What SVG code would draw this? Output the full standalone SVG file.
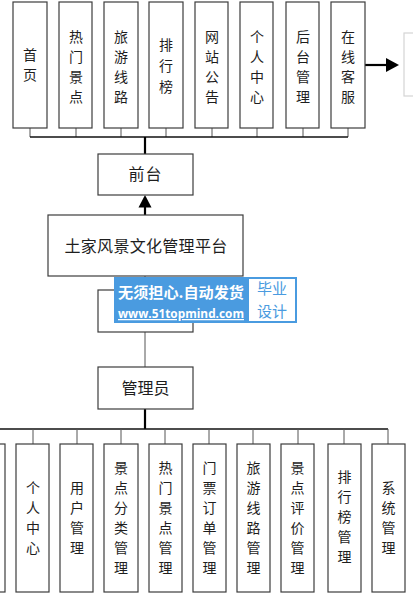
<svg xmlns="http://www.w3.org/2000/svg" width="413" height="599" viewBox="0 0 413 599">
<style>
  .box{fill:#fff;stroke:#3c3c3c;stroke-width:1.2}
  .t{font-family:"Noto Sans CJK SC","Liberation Sans",sans-serif;font-size:16px;fill:#1e1e1e;text-anchor:middle}
  .c{font-family:"Noto Sans CJK SC","Liberation Sans",sans-serif;font-size:14px;fill:#1e1e1e;text-anchor:middle}
  .thin{stroke:#555;stroke-width:1;fill:none}
  .bus{stroke:#111;stroke-width:1.6;fill:none}
  .thick{stroke:#000;stroke-width:2.2;fill:none}
</style>
<rect width="413" height="599" fill="#fff"/>
<g id="connectors">
  <path class="thin" d="M30 128V137M76 128V137M121 128V137M166 128V137M212 128V137M257 128V137M303 128V137M348 128V137"/>
  <path class="bus" d="M30 137H348"/>
  <path class="thick" d="M145 137V154"/>
  <path class="thick" d="M145 215V206"/>
  <polygon points="145,195 138.5,207.5 151.5,207.5" fill="#000"/>
  <path class="thick" d="M365 65H388"/>
  <polygon points="399,65 386,58 386,72" fill="#000"/>
  <path class="thin" d="M145 276V290M145 332V367"/>
  <path class="thick" d="M145 409V429"/>
  <path class="bus" d="M0 429H388"/>
  <path class="thin" d="M33 429V444M77 429V444M121 429V444M165 429V444M209 429V444M253 429V444M298 429V444M344 429V444M388 429V444"/>
</g>
<g id="n_home"><rect class="box" x="13" y="2" width="34" height="126"/><text class="c"><tspan x="30" y="60">首</tspan><tspan x="30" y="80">页</tspan></text></g>
<g id="n_hot"><rect class="box" x="59" y="2" width="33" height="126"/><text class="c"><tspan x="76" y="42">热</tspan><tspan x="76" y="62">门</tspan><tspan x="76" y="82">景</tspan><tspan x="76" y="102">点</tspan></text></g>
<g id="n_route"><rect class="box" x="104" y="2" width="34" height="126"/><text class="c"><tspan x="121" y="42">旅</tspan><tspan x="121" y="62">游</tspan><tspan x="121" y="82">线</tspan><tspan x="121" y="102">路</tspan></text></g>
<g id="n_rank"><rect class="box" x="149" y="2" width="34" height="126"/><text class="c"><tspan x="166" y="50">排</tspan><tspan x="166" y="71">行</tspan><tspan x="166" y="92">榜</tspan></text></g>
<g id="n_notice"><rect class="box" x="195" y="2" width="33" height="126"/><text class="c"><tspan x="212" y="42">网</tspan><tspan x="212" y="62">站</tspan><tspan x="212" y="82">公</tspan><tspan x="212" y="102">告</tspan></text></g>
<g id="n_personal"><rect class="box" x="240" y="2" width="33" height="126"/><text class="c"><tspan x="257" y="42">个</tspan><tspan x="257" y="62">人</tspan><tspan x="257" y="82">中</tspan><tspan x="257" y="102">心</tspan></text></g>
<g id="n_backend"><rect class="box" x="286" y="2" width="33" height="126"/><text class="c"><tspan x="303" y="42">后</tspan><tspan x="303" y="62">台</tspan><tspan x="303" y="82">管</tspan><tspan x="303" y="102">理</tspan></text></g>
<g id="n_service"><rect class="box" x="331" y="2" width="34" height="126"/><text class="c"><tspan x="348" y="42">在</tspan><tspan x="348" y="62">线</tspan><tspan x="348" y="82">客</tspan><tspan x="348" y="102">服</tspan></text></g>
<g id="n_right"><rect x="404" y="33" width="20" height="63" fill="#fff" stroke="#d4d4d4" stroke-width="1.2"/></g>
<g id="n_front"><rect class="box" x="98" y="154" width="95" height="41"/><text class="t" x="145.5" y="180" letter-spacing="1">前台</text></g>
<g id="n_platform"><rect class="box" x="48" y="215" width="195" height="61"/><text class="t" x="146" y="252" font-size="16.5px" letter-spacing="0.3">土家风景文化管理平台</text></g>
<g id="n_hidden"><rect class="box" x="98" y="290" width="95" height="42"/></g>
<g id="n_admin"><rect class="box" x="98" y="367" width="95" height="42"/><text class="t" x="145.5" y="394">管理员</text></g>
<g id="b_0"><rect class="box" x="-28" y="444" width="33" height="148"/></g>
<g id="b_personal"><rect class="box" x="16" y="444" width="33" height="148"/><text class="c"><tspan x="33" y="493">个</tspan><tspan x="33" y="513">人</tspan><tspan x="33" y="533">中</tspan><tspan x="33" y="553">心</tspan></text></g>
<g id="b_user"><rect class="box" x="60" y="444" width="33" height="148"/><text class="c"><tspan x="77" y="493">用</tspan><tspan x="77" y="513">户</tspan><tspan x="77" y="533">管</tspan><tspan x="77" y="553">理</tspan></text></g>
<g id="b_cat"><rect class="box" x="104" y="444" width="34" height="148"/><text class="c"><tspan x="121" y="473">景</tspan><tspan x="121" y="493">点</tspan><tspan x="121" y="513">分</tspan><tspan x="121" y="533">类</tspan><tspan x="121" y="553">管</tspan><tspan x="121" y="573">理</tspan></text></g>
<g id="b_hot"><rect class="box" x="149" y="444" width="33" height="148"/><text class="c"><tspan x="165.5" y="473">热</tspan><tspan x="165.5" y="493">门</tspan><tspan x="165.5" y="513">景</tspan><tspan x="165.5" y="533">点</tspan><tspan x="165.5" y="553">管</tspan><tspan x="165.5" y="573">理</tspan></text></g>
<g id="b_ticket"><rect class="box" x="193" y="444" width="33" height="148"/><text class="c"><tspan x="209.5" y="473">门</tspan><tspan x="209.5" y="493">票</tspan><tspan x="209.5" y="513">订</tspan><tspan x="209.5" y="533">单</tspan><tspan x="209.5" y="553">管</tspan><tspan x="209.5" y="573">理</tspan></text></g>
<g id="b_route"><rect class="box" x="237" y="444" width="33" height="148"/><text class="c"><tspan x="253.5" y="473">旅</tspan><tspan x="253.5" y="493">游</tspan><tspan x="253.5" y="513">线</tspan><tspan x="253.5" y="533">路</tspan><tspan x="253.5" y="553">管</tspan><tspan x="253.5" y="573">理</tspan></text></g>
<g id="b_review"><rect class="box" x="281" y="444" width="33" height="148"/><text class="c"><tspan x="297.5" y="473">景</tspan><tspan x="297.5" y="493">点</tspan><tspan x="297.5" y="513">评</tspan><tspan x="297.5" y="533">价</tspan><tspan x="297.5" y="553">管</tspan><tspan x="297.5" y="573">理</tspan></text></g>
<g id="b_rank"><rect class="box" x="328" y="444" width="33" height="148"/><text class="c"><tspan x="344.5" y="482">排</tspan><tspan x="344.5" y="502">行</tspan><tspan x="344.5" y="522">榜</tspan><tspan x="344.5" y="542">管</tspan><tspan x="344.5" y="562">理</tspan></text></g>
<g id="b_system"><rect class="box" x="372" y="444" width="33" height="148"/><text class="c"><tspan x="388.5" y="493">系</tspan><tspan x="388.5" y="513">统</tspan><tspan x="388.5" y="533">管</tspan><tspan x="388.5" y="553">理</tspan></text></g>
<g id="watermark">
  <rect x="114" y="277" width="183" height="46" fill="#4a9be0"/>
  <rect x="249" y="279" width="46" height="42" fill="#fff"/>
  <text x="181" y="298" font-family="Noto Sans CJK SC,sans-serif" font-size="14.5px" font-weight="bold" fill="#fff" text-anchor="middle" textLength="126" lengthAdjust="spacingAndGlyphs">无须担心.自动发货</text>
  <text x="181" y="318" font-family="Open Sans,Noto Sans CJK SC,sans-serif" font-size="12.5px" font-weight="bold" fill="#fff" text-anchor="middle" text-decoration="underline" textLength="126" lengthAdjust="spacingAndGlyphs">www.51topmind.com</text>
  <text x="272" y="294" font-family="Noto Sans CJK SC,sans-serif" font-size="15px" fill="#4a9be0" text-anchor="middle">毕业</text>
  <text x="272" y="317" font-family="Noto Sans CJK SC,sans-serif" font-size="15px" fill="#4a9be0" text-anchor="middle">设计</text>
</g>
</svg>
